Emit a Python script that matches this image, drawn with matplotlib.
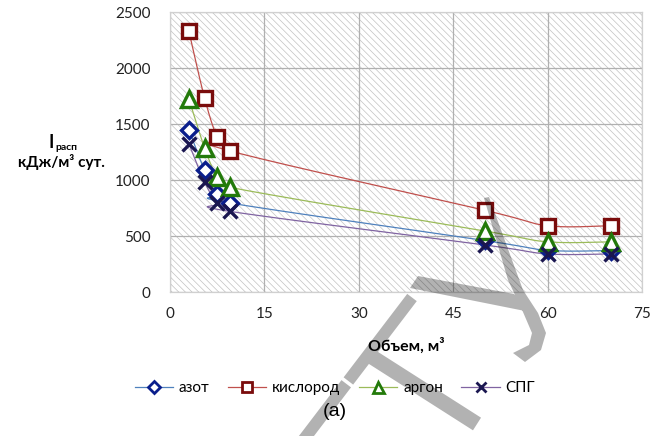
import numpy as np
import matplotlib
matplotlib.use("Agg")
import matplotlib.pyplot as plt
from matplotlib.lines import Line2D
from matplotlib.patches import Rectangle, PathPatch
from matplotlib.path import Path

# Data: specific energy vs. tank volume
volume = [3, 5.5, 7.5, 9.5, 50, 60, 70]
azot = [1450, 1085, 872, 795, 460, 372, 370]
kislorod = [2330, 1730, 1385, 1260, 730, 592, 592]
argon = [1725, 1285, 1025, 935, 545, 448, 448]
spg = [1325, 980, 795, 720, 420, 340, 340]
series_names = ["азот", "кислород", "аргон", "СПГ"]
x_ticks = [0, 15, 30, 45, 60, 75]
y_ticks = [0, 500, 1000, 1500, 2000, 2500]

W, H = 669, 436
plt.rcParams["font.family"] = ["Lato", "DejaVu Sans"]
plt.rcParams["hatch.linewidth"] = 0.5

fig = plt.figure(figsize=(W / 100, H / 100), dpi=100)
L, R, T, B = 170, 642, 12, 292
ax = fig.add_axes([L / W, 1 - B / H, (R - L) / W, (B - T) / H])
ax.set_xlim(0, 75)
ax.set_ylim(0, 2500)
ax.patch.set_visible(False)
ax.add_patch(Rectangle((0, 0), 1, 1, transform=ax.transAxes, facecolor="white",
                       edgecolor="#c2c2c2", linewidth=0, hatch="\\\\\\\\\\", zorder=0))
ax.set_xticks(x_ticks)
ax.set_yticks(y_ticks)
ax.grid(True, color="#b0b0b0", linewidth=0.9)
ax.set_axisbelow(True)
for s in ax.spines.values():
    s.set_color("#d0d0d0")
    s.set_linewidth(0.9)
ax.tick_params(length=0, labelsize=11, colors="#222222")
ax.tick_params(axis="y", pad=14)
ax.tick_params(axis="x", pad=11)

# pixel scale used for Excel-style smoothing
sx, sy = (R - L) / 75.0, (B - T) / 2500.0


def smooth(xs, ys, n=30):
    P = np.column_stack([np.array(xs) * sx, np.array(ys) * sy])
    out = [P[0]]
    m = len(P)
    for i in range(m - 1):
        p0 = P[i - 1] if i > 0 else P[i]
        p1, p2 = P[i], P[i + 1]
        p3 = P[i + 2] if i + 2 < m else P[i + 1]
        c1 = p1 + (p2 - p0) / 6.0
        c2 = p2 - (p3 - p1) / 6.0
        t = np.linspace(0, 1, n)[1:, None]
        seg = ((1 - t) ** 3) * p1 + 3 * ((1 - t) ** 2) * t * c1 + 3 * (1 - t) * t * t * c2 + t ** 3 * p2
        out.extend(seg)
    out = np.array(out)
    return out[:, 0] / sx, out[:, 1] / sy


styles = [
    (azot, "#4F81BD", "D", "#0a1e8c", 8.5, "white"),
    (kislorod, "#C0504D", "s", "#7a0c0c", 10.5, "white"),
    (argon, "#9BBB59", "^", "#237a0a", 11, "white"),
    (spg, "#8064A2", "x", "#1a1650", 10.5, "#1a1650"),
]

handles = []
for (vals, lc, mk, mc, ms, fc), name in zip(styles, series_names):
    xs, ys = smooth(volume, vals)
    ax.plot(xs, ys, color=lc, linewidth=0.9, zorder=3)
    ax.plot(volume, vals, linestyle="none", marker=mk, markersize=ms,
            markeredgecolor=mc, markerfacecolor=fc, markeredgewidth=2.4, zorder=4)
    handles.append(Line2D([0], [0], color=lc, linewidth=0.9, marker=mk, markersize=ms * 0.72,
                          markeredgecolor=mc, markerfacecolor=fc, markeredgewidth=2.0))

ax.set_xlabel("Объем, м³", fontsize=11.5, fontweight="bold", labelpad=12)

# Y axis title
fig.text(49 / W, 1 - 143 / H, "I", fontsize=13, fontweight="bold", ha="left", va="center")
fig.text(55 / W, 1 - 148 / H, "расп", fontsize=7.5, fontweight="bold", ha="left", va="center")
fig.text(61 / W, 1 - 162 / H, "кДж/м³ сут.", fontsize=11, fontweight="bold", ha="center", va="center")

fig.legend(handles, series_names, loc="center", bbox_to_anchor=(335 / W, 1 - 388 / H),
           ncol=4, frameon=False, fontsize=11, handlelength=2.5, columnspacing=1.2,
           handletextpad=0.4)

fig.text(335 / W, 1 - 411 / H, "(a)", fontsize=14, family="Liberation Sans",
         ha="center", va="center")


# translucent stamp over the chart (pixel outlines, y downwards)
def bar(p, q, w):
    p, q = np.array(p, float), np.array(q, float)
    d = (q - p) / np.linalg.norm(q - p)
    n = np.array([-d[1], d[0]]) * w / 2
    return [p + n, q + n, q - n, p - n]


top = np.array([412.0, 297.5])
dirv = np.array([-0.606, 0.795])
stamp = [
    bar(top, top + dirv * 105, 12),
    bar(top + dirv * 108.5, top + dirv * 185, 12),
    bar((372, 357), (477, 424), 15),
    [(418, 276), (514, 294), (530, 312), (410, 288)],
    [(484, 198), (508, 280), (523, 312), (532, 333), (529, 345), (513, 353),
     (525, 362), (541, 350), (546, 333), (538, 313), (523, 290), (489, 197)],
]
verts, codes = [], []
for poly in stamp:
    pts = np.array(poly, float)
    area = np.sum(pts[:, 0] * np.roll(pts[:, 1], -1) - np.roll(pts[:, 0], -1) * pts[:, 1])
    if area < 0:
        pts = pts[::-1]
    for k, (px, py) in enumerate(pts):
        verts.append((px / W, 1 - py / H))
        codes.append(Path.MOVETO if k == 0 else Path.LINETO)
    verts.append((0, 0))
    codes.append(Path.CLOSEPOLY)
fig.add_artist(PathPatch(Path(verts, codes), transform=fig.transFigure, facecolor="black",
                         edgecolor="none", alpha=0.3, zorder=10))

fig.savefig("out.png", dpi=100)
